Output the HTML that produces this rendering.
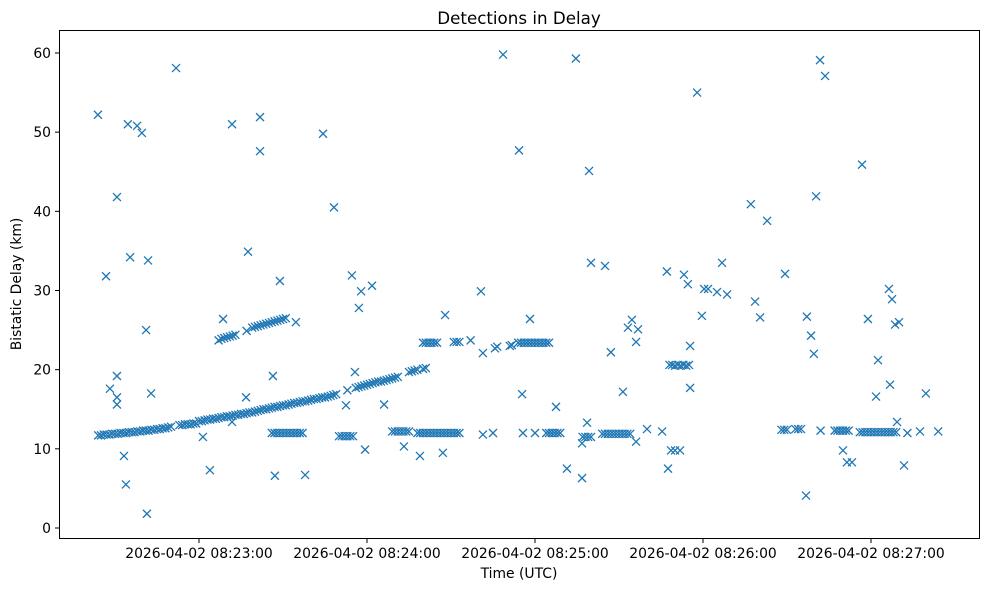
<!DOCTYPE html>
<html><head><meta charset="utf-8"><style>
body{margin:0;background:#fff;font-family:"Liberation Sans","DejaVu Sans",sans-serif;}
svg text{font-family:"DejaVu Sans","Liberation Sans",sans-serif;}
</style></head><body>
<svg id="chart" width="989" height="590" xmlns="http://www.w3.org/2000/svg">
<rect width="989" height="590" fill="#fff"/>
<text x="519" y="24" font-size="16.7" text-anchor="middle">Detections in Delay</text>
<text x="519" y="578" font-size="13.9" text-anchor="middle">Time (UTC)</text>
<text transform="translate(21,284) rotate(-90)" font-size="13.9" text-anchor="middle">Bistatic Delay (km)</text>
<g id="marks"></g>
<g id="axes"></g>
<rect x="59.5" y="30.5" width="920" height="508" fill="none" stroke="#000" stroke-width="1"/>
</svg>
<script>
// times: seconds after 2026-04-02 08:22:00 UTC ; delays: km
const outT=[23.9,26.8,28.2,30.7,30.7,30.7,30.7,33.2,33.9,34.6,35.4,37.9,39.6,41.1,41.4,41.8,42.9,51.8,61.4,63.9,68.6,71.8,71.8,76.8,77.5,81.8,81.8,86.4,87.1,88.9,94.6,97.9,104.3,108.2,112.5,114.6,115.7,117.1,117.9,119.3,121.8,126.1,133.2,138.9,147.1,147.9,160.7,161.4,168.6,174.3,175.4,178.2,187.5,191.4,194.6,196.8,198.6,199.3,200,205,207.1,211.4,213.2,214.6,216.1,216.8,216.1,227.1,227.5,228.6,230,231.8,233.2,234.6,235.4,235.4,237.9,239.6,240.4,241.8,245,246.8,248.6,257.1,258.6,260.4,262.9,269.3,276.8,277.1,278.6,279.6,280.4,281.8,283.6,290,291.4,293.2,296.8,298.9,301.8,302.5,306.4,306.8,307.5,308.6,309.3,310,311.8,319.6];
const outD=[52.2,31.8,17.6,41.8,19.2,16.5,15.6,9.1,5.5,51.0,34.2,50.8,49.9,25.0,1.8,33.8,17.0,58.1,11.5,7.3,26.4,51.0,13.4,16.5,34.9,51.9,47.6,19.2,6.6,31.2,26.0,6.7,49.8,40.5,15.5,31.9,19.7,27.8,29.9,9.9,30.6,15.6,10.3,9.1,9.5,26.9,29.9,22.1,59.8,47.7,16.9,26.4,15.3,7.5,59.3,6.3,13.3,45.1,33.5,33.1,22.2,17.2,25.3,26.3,23.5,25.1,10.9,32.4,7.5,9.8,9.8,9.8,32.0,30.8,17.7,23.0,55.0,26.8,30.2,30.2,29.8,33.5,29.5,40.9,28.6,26.6,38.8,32.1,4.1,26.7,24.3,22.0,41.9,59.1,57.1,9.8,8.3,8.3,45.9,26.4,16.6,21.2,30.2,18.1,28.9,25.7,13.4,26.0,7.9,17.0];
const trackT=[24,25,26,27,28,29,30,31,32,33,34,35,36,37,38,39,40,41,42,43,44,45,46,47,48,49,50,53,54,55,56,57,58,59,60,61,62,63,64,65,66,67,68,69,70,71,72,73,74,75,76,77,78,79,80,81,82,83,84,85,86,87,88,89,90,91,92,93,94,95,96,97,98,99,100,101,102,103,104,105,106,107,108,109,113,116,117,118,119,120,121,122,123,124,125,126,127,128,129,130,131,135,136,137,138,140,141];
const trackD=[11.7,11.7,11.8,11.8,11.8,11.9,11.9,11.9,12.0,12.0,12.0,12.1,12.1,12.1,12.2,12.2,12.3,12.3,12.3,12.4,12.4,12.5,12.5,12.6,12.6,12.7,12.8,13.0,13.0,13.1,13.1,13.1,13.2,13.2,13.5,13.5,13.6,13.7,13.7,13.8,13.8,13.9,14.0,14.0,14.1,14.1,14.2,14.3,14.3,14.4,14.4,14.5,14.6,14.6,14.7,14.8,14.9,15.0,15.0,15.1,15.2,15.3,15.3,15.4,15.5,15.5,15.6,15.7,15.8,15.8,15.9,16.0,16.0,16.1,16.2,16.3,16.3,16.4,16.5,16.5,16.6,16.7,16.8,16.9,17.4,17.7,17.8,17.9,18.0,18.1,18.2,18.3,18.4,18.5,18.5,18.6,18.7,18.8,18.9,19.0,19.1,19.7,19.8,19.9,20.0,20.1,20.2];
const upperT=[140,141,142,143,144,145,151,152,153,157,165.7,166.5,171,171.7,174,175,176,177,178,179,180,181,182,183,184,185,67,68,69,70,71,72,73,77,79,80,81,82,83,84,85,86,87,88,89,90,91,228,229,230,231,232,233,234,235];
const upperD=[23.4,23.4,23.4,23.4,23.4,23.4,23.5,23.5,23.5,23.7,22.7,22.9,23.0,23.1,23.4,23.4,23.4,23.4,23.4,23.4,23.4,23.4,23.4,23.4,23.4,23.4,23.7,23.9,24.0,24.1,24.2,24.3,24.4,24.9,25.3,25.4,25.5,25.6,25.7,25.8,25.9,26.0,26.1,26.2,26.3,26.4,26.5,20.6,20.6,20.5,20.6,20.5,20.6,20.5,20.6];
const flatT=[86,87,88,89,90,91,92,93,94,95,96,97,110,111,112,113,114,115,129,130,131,132,133,134,135,138,139,140,141,142,143,144,145,146,147,148,149,150,151,152,153,161.4,165,175.7,180,184,185,186,187,188,189,197,198,199,200,196.8,204,205,206,207,208,209,210,211,212,213,214,220,225.4,268,269,270,273,274,275,282,287,288,289,290,291,292,296,297,298,299,300,301,302,303,304,305,306,307,308,309,313,317.5,324];
const flatD=[12.0,12.0,12.0,12.0,12.0,12.0,12.0,12.0,12.0,12.0,12.0,12.0,11.6,11.6,11.6,11.6,11.6,11.6,12.2,12.2,12.2,12.2,12.2,12.2,12.2,12.0,12.0,12.0,12.0,12.0,12.0,12.0,12.0,12.0,12.0,12.0,12.0,12.0,12.0,12.0,12.0,11.8,12.0,12.0,12.0,12.0,12.0,12.0,12.0,12.0,12.0,11.5,11.5,11.5,11.5,10.7,11.9,11.9,11.9,11.9,11.9,11.9,11.9,11.9,11.9,11.9,11.9,12.5,12.2,12.4,12.4,12.4,12.5,12.5,12.5,12.3,12.3,12.3,12.3,12.3,12.3,12.3,12.1,12.1,12.1,12.1,12.1,12.1,12.1,12.1,12.1,12.1,12.1,12.1,12.1,12.1,12.0,12.2,12.2];
const yTicks=[0,10,20,30,40,50,60];
const xTicks=[60,120,180,240,300];
const xTickLabels=["2026-04-02 08:23:00","2026-04-02 08:24:00","2026-04-02 08:25:00","2026-04-02 08:26:00","2026-04-02 08:27:00"];

const NS="http://www.w3.org/2000/svg";
function xScale(s){return 31+s*2.8;}
function yScale(d){return 528-d*7.917;}
const marks=document.getElementById('marks');
const axes=document.getElementById('axes');
function drawSeries(T,D){
  for(let i=0;i<T.length;i++){
    const cx=xScale(T[i]),cy=yScale(D[i]),r=4;
    const p=document.createElementNS(NS,'path');
    p.setAttribute('d',`M${cx-r},${cy-r}L${cx+r},${cy+r}M${cx-r},${cy+r}L${cx+r},${cy-r}`);
    p.setAttribute('stroke','#1f77b4');p.setAttribute('stroke-width','1.3');p.setAttribute('fill','none');
    
    
    marks.appendChild(p);
  }
}
drawSeries(outT,outD);drawSeries(trackT,trackD);drawSeries(upperT,upperD);drawSeries(flatT,flatD);
yTicks.forEach(v=>{
  const y=yScale(v);
  const l=document.createElementNS(NS,'line');
  l.setAttribute('x1',55);l.setAttribute('x2',59.5);l.setAttribute('y1',y);l.setAttribute('y2',y);l.setAttribute('stroke','#000');
  
  
  axes.appendChild(l);
  const t=document.createElementNS(NS,'text');
  t.setAttribute('x',51);t.setAttribute('y',y+5);t.setAttribute('font-size','13.9');t.setAttribute('text-anchor','end');
  t.textContent=v;
  
  
  axes.appendChild(t);
});
xTicks.forEach((v,i)=>{
  const x=xScale(v);
  const l=document.createElementNS(NS,'line');
  l.setAttribute('x1',x);l.setAttribute('x2',x);l.setAttribute('y1',538.5);l.setAttribute('y2',543);l.setAttribute('stroke','#000');
  
  
  axes.appendChild(l);
  const t=document.createElementNS(NS,'text');
  t.setAttribute('x',x);t.setAttribute('y',558);t.setAttribute('font-size','13.9');t.setAttribute('text-anchor','middle');
  t.textContent=xTickLabels[i];
  
  
  axes.appendChild(t);
});
</script>
</body></html>
